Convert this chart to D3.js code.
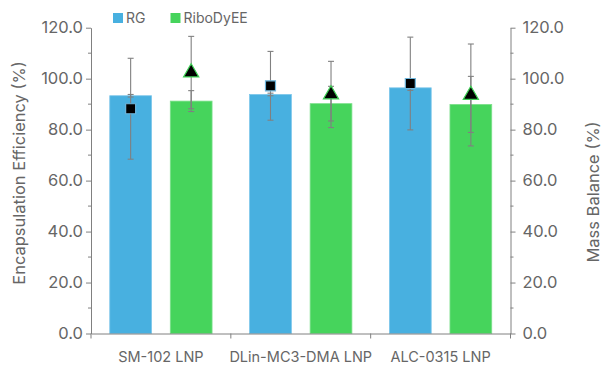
<!DOCTYPE html>
<html>
<head>
<meta charset="utf-8">
<script src="https://cdn.jsdelivr.net/npm/d3@7"></script>
<style>
  body { margin: 0; background: #fff; }
  svg { display: block; font-family: Inter, "Noto Sans", sans-serif; }
</style>
</head>
<body>
<div id="chart"></div>
<script>
// values
var categories = ["SM-102 LNP", "DLin-MC3-DMA LNP", "ALC-0315 LNP"];
var series = ["RG", "RiboDyEE"];
var eeRG = [93.3, 93.8, 96.4];
var eeRGErr = [0.5, 0.5, 1.0];
var eeRibo = [91.2, 90.2, 89.9];
var eeRiboErr = [4.1, 6.8, 11.0];
var mbRG = [88.2, 97.2, 98.1];
var mbRGErr = [19.8, 13.5, 18.2];
var mbRibo = [102.4, 93.8, 93.6];
var mbRiboErr = [14.2, 13.0, 20.0];
var yTicks = [0, 20, 40, 60, 80, 100, 120];

var width = 602, height = 370;
var colors = { "RG": "#48b0e0", "RiboDyEE": "#46d45c" };
var strokes = { "RG": "#7cc6ea", "RiboDyEE": "#7de08b" };

var svg = d3.select("#chart").append("svg")
	.attr("width", width)
	.attr("height", height);

var x = d3.scaleBand().domain(categories).range([91, 510.5]).padding(0);
var xs = d3.scaleBand().domain(series).range([0, x.bandwidth()]).padding(0.31);
var y = d3.scaleLinear().domain([0, 120]).range([333.5, 27.7]);
var y2 = d3.scaleLinear().domain([0, 120]).range([333.5, 27.7]);

var rows = [];
categories.forEach(function(c, i) {
	rows.push({ cat: c, s: "RG", ee: eeRG[i], eeErr: eeRGErr[i], mb: mbRG[i], mbErr: mbRGErr[i] });
	rows.push({ cat: c, s: "RiboDyEE", ee: eeRibo[i], eeErr: eeRiboErr[i], mb: mbRibo[i], mbErr: mbRiboErr[i] });
});

function cx(d) { return x(d.cat) + xs(d.s) + xs.bandwidth() / 2; }

// bars
svg.append("g").selectAll("rect").data(rows).enter().append("rect")
	.attr("x", function(d) { return x(d.cat) + xs(d.s); })
	.attr("y", function(d) { return y(d.ee); })
	.attr("width", xs.bandwidth())
	.attr("height", function(d) { return y(0) - y(d.ee); })
	.attr("fill", function(d) { return colors[d.s]; })
	.attr("stroke", function(d) { return strokes[d.s]; })
	.attr("stroke-width", 0.8);

// error bars: bar (left axis) and marker (right axis)
function errBars(g, sc, val, err) {
	var e = g.append("g").selectAll("g").data(rows).enter().append("g")
		.attr("stroke", "#808080")
		.attr("stroke-width", 1.1);
	e.append("line")
		.attr("x1", cx).attr("x2", cx)
		.attr("y1", function(d) { return sc(d[val] + d[err]); })
		.attr("y2", function(d) { return sc(d[val] - d[err]); });
	[1, -1].forEach(function(k) {
		e.append("line")
			.attr("x1", function(d) { return cx(d) - 3; })
			.attr("x2", function(d) { return cx(d) + 3; })
			.attr("y1", function(d) { return sc(d[val] + k * d[err]); })
			.attr("y2", function(d) { return sc(d[val] + k * d[err]); });
	});
}
errBars(svg, y, "ee", "eeErr");
errBars(svg, y2, "mb", "mbErr");

// markers
svg.append("g").selectAll("path").data(rows).enter().append("path")
	.attr("transform", function(d) { return "translate(" + cx(d) + "," + y2(d.mb) + ")"; })
	.attr("d", function(d) {
		return d.s === "RG"
			? d3.symbol().type(d3.symbolSquare).size(100)()
			: d3.symbol().type(d3.symbolTriangle).size(100)();
	})
	.attr("fill", "#000")
	.attr("stroke", function(d) { return d.s === "RG" ? "#6fb6dc" : "#3fcf55"; })
	.attr("stroke-width", 1.2);

// axes
var axisColor = "#808080", textColor = "#666";
function styleAxis(g) {
	g.selectAll("path, line").attr("stroke", axisColor);
	g.selectAll("text").attr("fill", textColor).attr("font-family", "Inter, sans-serif");
}

var minor = d3.range(10, 120, 20);

var yl = svg.append("g").attr("transform", "translate(91,0)")
	.call(d3.axisLeft(y).tickValues(yTicks).tickFormat(d3.format(".1f")).tickSize(5).tickPadding(3).tickSizeOuter(0));
yl.selectAll("text").attr("font-size", 16.5);
yl.append("g").selectAll("line").data(minor).enter().append("line")
	.attr("x1", -3).attr("x2", 0).attr("y1", y).attr("y2", y);
styleAxis(yl);

var yr = svg.append("g").attr("transform", "translate(510.5,0)")
	.call(d3.axisRight(y2).tickValues(yTicks).tickFormat(d3.format(".1f")).tickSize(5).tickPadding(7).tickSizeOuter(0));
yr.selectAll("text").attr("font-size", 16.5);
yr.append("g").selectAll("line").data(minor).enter().append("line")
	.attr("x1", 0).attr("x2", 3).attr("y1", y2).attr("y2", y2);
styleAxis(yr);

var xa = svg.append("g").attr("transform", "translate(0,333.5)")
	.call(d3.axisBottom(x).tickSize(0).tickPadding(18).tickSizeOuter(0));
xa.selectAll("text").attr("font-size", 14.5);
xa.append("g").selectAll("line").data(x.domain().map(function(c) { return x(c); }).concat([x.range()[1]]))
	.enter().append("line")
	.attr("x1", function(d) { return d; }).attr("x2", function(d) { return d; })
	.attr("y1", 0).attr("y2", 5);
styleAxis(xa);

// axis titles
svg.append("text")
	.attr("transform", "translate(25,173) rotate(-90)")
	.attr("text-anchor", "middle")
	.attr("font-size", 16.5)
	.attr("fill", textColor)
	.text("Encapsulation Efficiency (%)");

svg.append("text")
	.attr("transform", "translate(599,192) rotate(-90)")
	.attr("text-anchor", "middle")
	.attr("font-size", 16.5)
	.attr("fill", textColor)
	.text("Mass Balance (%)");

// legend
var legend = svg.append("g").selectAll("g").data(series).enter().append("g")
	.attr("transform", function(d, i) { return "translate(" + [113, 170.5][i] + ",13)"; });
legend.append("rect")
	.attr("width", 10).attr("height", 10)
	.attr("fill", function(d) { return colors[d]; });
legend.append("text")
	.attr("x", 13).attr("y", 10)
	.attr("font-size", 14)
	.attr("fill", textColor)
	.text(function(d) { return d; });
</script>
</body>
</html>
